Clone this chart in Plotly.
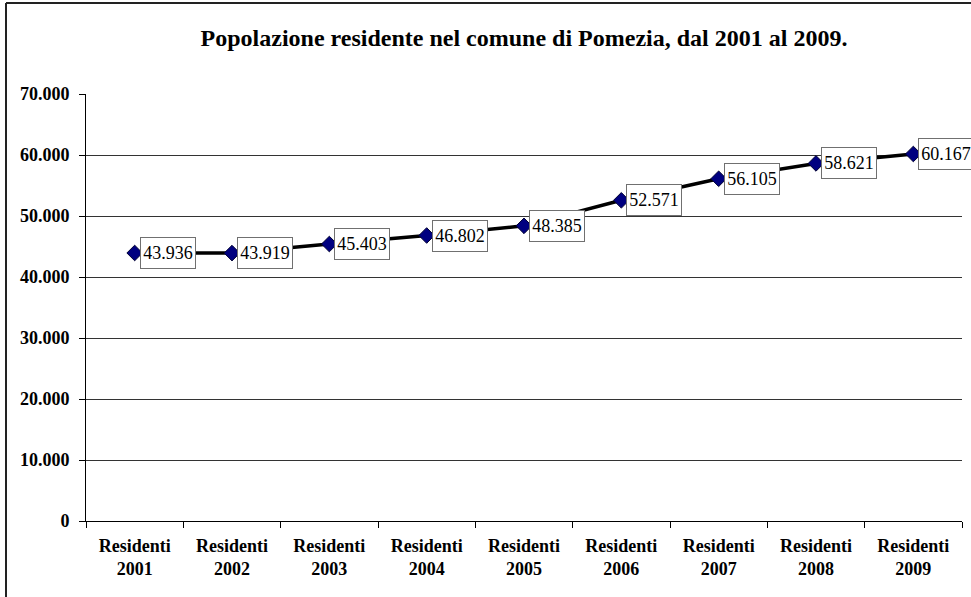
import plotly.graph_objects as go

categories = ["Residenti<br>2001", "Residenti<br>2002", "Residenti<br>2003", "Residenti<br>2004",
              "Residenti<br>2005", "Residenti<br>2006", "Residenti<br>2007", "Residenti<br>2008",
              "Residenti<br>2009"]
residents = [43936, 43919, 45403, 46802, 48385, 52571, 56105, 58621, 60167]
y_ticks = [0, 10000, 20000, 30000, 40000, 50000, 60000, 70000]
y_tick_labels = ["0", "10.000", "20.000", "30.000", "40.000", "50.000", "60.000", "70.000"]
title_text = "Popolazione residente nel comune di Pomezia, dal 2001 al 2009."

def fmt(v):
    return f"{v:,}".replace(",", ".")

FONT = "Liberation Serif"

fig = go.Figure()
fig.add_trace(go.Scatter(
    x=categories, y=residents, mode="lines+markers",
    line=dict(color="black", width=3.5),
    marker=dict(symbol="diamond", size=12, color="#000080", line=dict(color="#000033", width=1)),
    showlegend=False, cliponaxis=False,
))

for c, v in zip(categories, residents):
    fig.add_annotation(
        x=c, y=v, text=fmt(v), showarrow=False, xanchor="left", yanchor="middle",
        xshift=5, width=54, height=30, borderpad=0,
        bordercolor="#707070", borderwidth=1, bgcolor="white",
        font=dict(family=FONT, size=18, color="black"),
    )

# outer chart border (left and top edges; right/bottom lie outside the picture)
bx0 = (6 - 86) / 876
by1 = (521 - 3) / 427
fig.add_shape(type="line", xref="paper", yref="paper", x0=bx0, x1=1.2, y0=by1, y1=by1,
              line=dict(color="#222222", width=2), layer="below")
fig.add_shape(type="line", xref="paper", yref="paper", x0=bx0, x1=bx0, y0=-0.3, y1=by1,
              line=dict(color="#222222", width=2), layer="below")

fig.update_layout(
    width=971, height=597,
    margin=dict(l=86, r=9, t=94, b=76, autoexpand=False),
    paper_bgcolor="white", plot_bgcolor="white",
    title=dict(text=f"<b>{title_text}</b>", x=0.5, xref="paper", y=1 - 38 / 597, yanchor="middle",
               font=dict(family=FONT, size=24, color="black"), automargin=False),
    font=dict(family=FONT, color="black"),
)
fig.update_xaxes(
    type="category", showline=True, linecolor="black", linewidth=1,
    ticks="outside", tickson="boundaries", ticklen=6, tickcolor="black",
    showgrid=False, tickfont=dict(family=FONT, size=18, color="black"),
    range=[-0.5, len(categories) - 0.5], automargin=False, ticklabelstandoff=8,
    tickvals=categories, ticktext=[f"<b>{c}</b>" for c in categories],
)
fig.update_yaxes(
    range=[0, 70000], tickvals=y_ticks, ticktext=[f"<b>{t}</b>" for t in y_tick_labels],
    showline=True, linecolor="black", linewidth=1, ticks="outside", ticklen=6, tickcolor="black",
    showgrid=True, gridcolor="#333333", gridwidth=1, zeroline=False,
    tickfont=dict(family=FONT, size=18, color="black"), automargin=False, ticklabelstandoff=6,
)

fig.write_html(
    "out.html", config={"displayModeBar": False},
    post_script=("document.body.style.margin='0';document.body.style.overflow='hidden';"
                 "document.documentElement.style.overflow='hidden';"),
)
